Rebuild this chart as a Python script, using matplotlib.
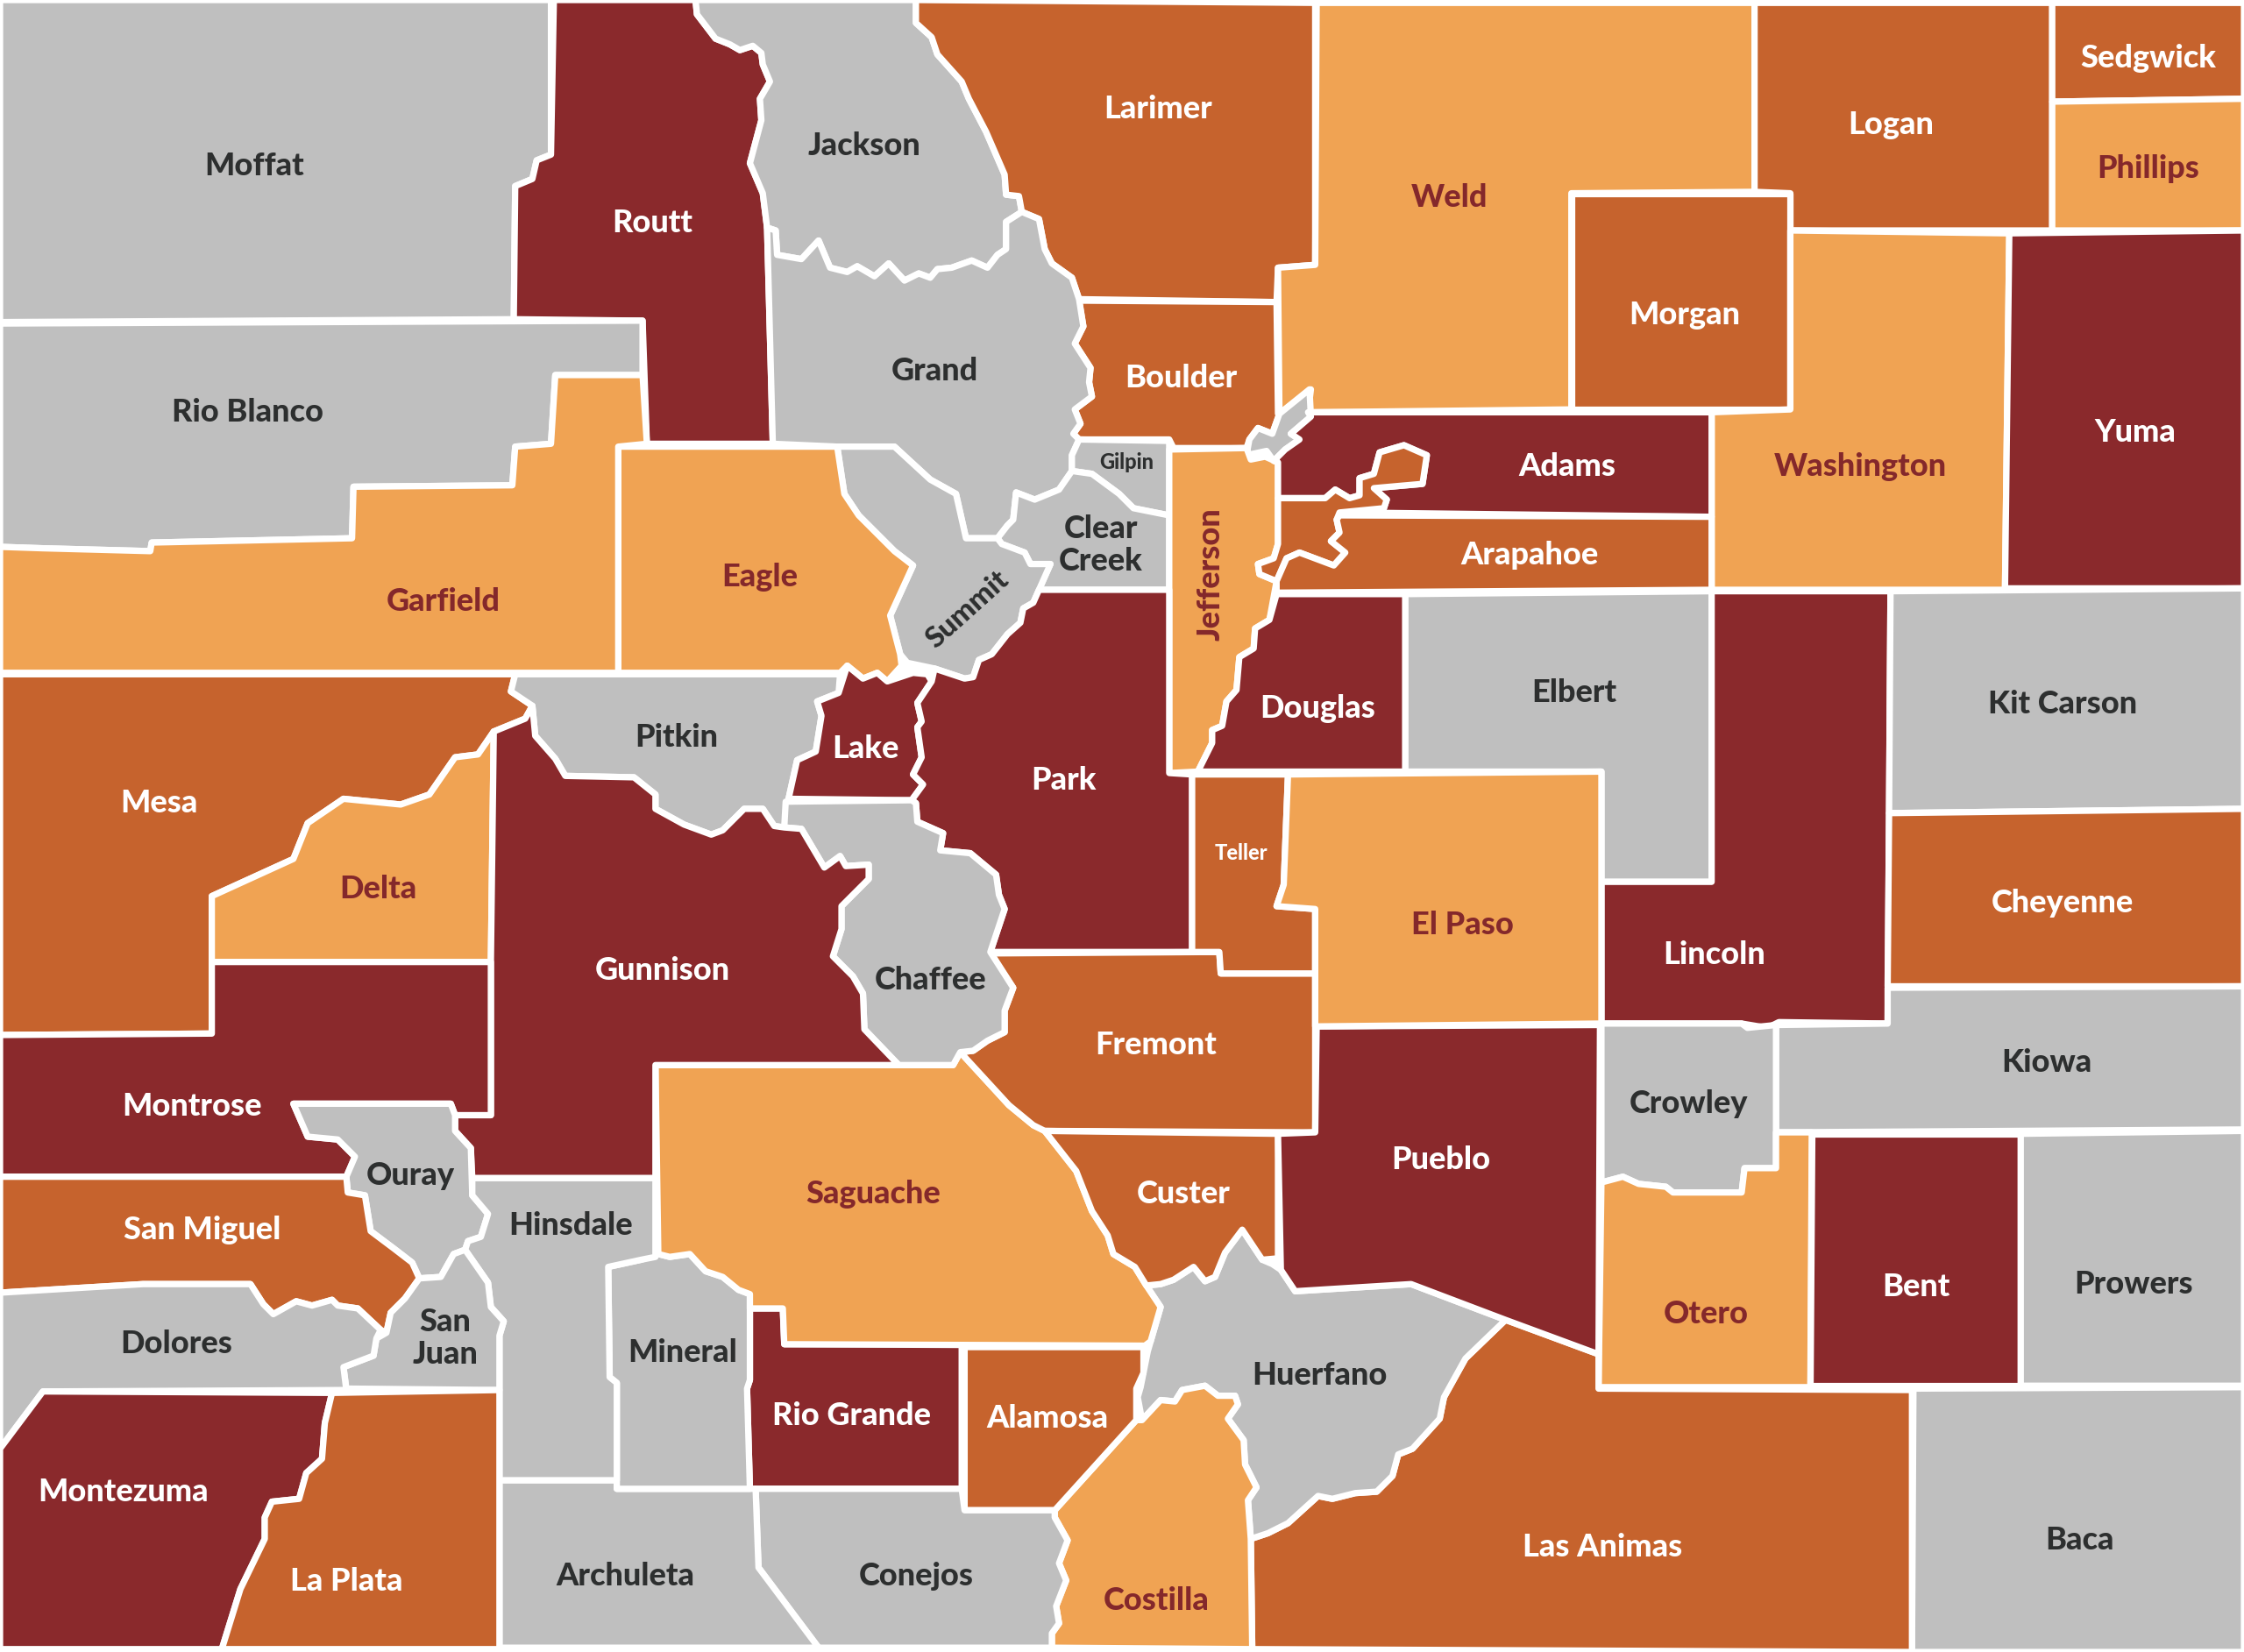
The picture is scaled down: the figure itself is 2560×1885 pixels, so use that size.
import matplotlib
matplotlib.use("Agg")
import matplotlib.pyplot as plt
from matplotlib.patches import Polygon

GREY, RED, ORANGE, LIGHT = "#BFBFBF", "#8A292C", "#C6632D", "#F0A353"
INK = {GREY: "#2D2F2F", RED: "#FFFFFF", ORANGE: "#FFFFFF", LIGHT: "#84282B"}

outlines = {
"Moffat": [(0,0),(385,0),(385,108),(375,112),(372,125),(360,130),(359,223),(0,225)],
"Routt": [(387,0),(486,0),(487,10),(500,27),(510,31),(517,35),(526,32),(532,37),(533,45),(538,57),(531,69),(532,84),(524,114),(533,135),(536,159),(540,310),(452,310),(449,224),(359,223),(360,130),(372,125),(375,112),(385,108)],
"Jackson": [(486,0),(640,0),(640,16),(651,26),(655,38),(672,57),(677,69),(689,92),(702,122),(703,136),(712,137),(714,148),(703,155),(703,174),(697,178),(690,187),(679,182),(665,187),(655,188),(650,194),(642,191),(632,196),(621,184),(611,193),(599,186),(592,190),(580,187),(572,168),(560,181),(543,178),(542,161),(536,159),(533,135),(524,114),(532,84),(531,69),(538,57),(533,45),(532,37),(526,32),(517,35),(510,31),(500,27),(487,10)],
"Larimer": [(640,0),(919,2),(919,185),(893,187),(892,211),(754,209),(749,194),(735,184),(730,174),(726,153),(714,148),(712,137),(703,136),(702,122),(689,92),(677,69),(672,57),(655,38),(651,26),(640,16)],
"Weld": [(920,2),(1226,2),(1226,134),(1098,135),(1098,286),(914,288),(916,272),(894,289),(893,187),(919,185)],
"Logan": [(1226,2),(1434,2),(1434,161),(1251,161),(1251,135),(1226,134)],
"Sedgwick": [(1434,2),(1568,2),(1568,69),(1434,71)],
"Phillips": [(1434,71),(1568,69),(1568,161),(1434,161)],
"Morgan": [(1098,135),(1251,135),(1251,286),(1098,286)],
"Washington": [(1251,161),(1404,163),(1401,412),(1196,412),(1196,288),(1251,286)],
"Yuma": [(1404,163),(1568,161),(1568,411),(1401,411)],
"Boulder": [(754,210),(892,211),(893,289),(894,289),(889,303),(879,299),(873,307),(871,313),(820,313),(817,307),(754,307),(750,303),(755,296),(751,286),(763,277),(761,267),(762,257),(751,240),(757,228)],
"Broomfield": [(871,318),(873,307),(879,299),(889,303),(894,289),(915,272),(916,291),(902,303),(908,307),(898,314),(890,322),(885,315)],
"Grand": [(536,159),(542,161),(543,178),(560,181),(572,168),(580,187),(592,190),(599,186),(611,193),(621,184),(632,196),(642,191),(650,194),(655,188),(665,187),(679,182),(690,187),(697,178),(703,174),(703,155),(714,148),(726,153),(730,174),(735,184),(749,194),(754,209),(757,228),(751,240),(762,257),(761,267),(763,277),(751,286),(755,296),(750,303),(754,307),(749,318),(749,329),(740,342),(723,349),(710,344),(708,363),(704,367),(697,376),(675,376),(668,345),(650,335),(625,312),(585,312),(540,310)],
"Gilpin": [(754,307),(817,308),(817,360),(792,355),(782,345),(763,331),(749,329),(749,318)],
"Clear Creek": [(749,329),(763,331),(782,345),(792,355),(817,360),(817,412),(726,412),(734,394),(720,394),(716,386),(700,380),(697,376),(704,367),(708,363),(710,344),(723,349),(740,342)],
"Jefferson": [(817,314),(871,313),(874,321),(884,319),(893,323),(893,380),(890,390),(879,394),(880,401),(892,406),(887,433),(877,439),(876,453),(866,459),(864,482),(857,490),(854,507),(847,510),(847,519),(837,539),(817,540)],
"Adams": [(914,288),(1196,288),(1196,361),(943,358),(967,355),(969,349),(960,341),(994,338),(997,318),(981,311),(964,316),(960,331),(950,334),(950,346),(943,348),(933,342),(926,348),(893,348),(893,323),(890,322),(898,314),(908,307),(902,303),(916,291)],
"Denver": [(893,348),(926,348),(933,342),(943,348),(950,346),(950,334),(960,331),(964,316),(981,311),(997,318),(994,338),(960,341),(969,349),(967,355),(936,358),(934,363),(936,372),(930,378),(940,386),(932,395),(908,386),(899,390),(892,406),(880,401),(879,394),(890,390),(893,380)],
"Arapahoe": [(936,360),(1196,361),(1196,412),(892,414),(892,406),(899,390),(908,386),(932,395),(940,386),(930,378),(936,372),(934,363)],
"Summit": [(585,312),(625,312),(650,335),(668,345),(675,376),(697,376),(700,380),(716,386),(720,394),(734,394),(726,412),(722,421),(715,425),(713,435),(704,443),(693,457),(684,461),(680,473),(674,474),(653,467),(634,463),(629,457),(622,430),(638,395),(625,385),(600,360),(590,345)],
"Eagle": [(432,312),(585,312),(590,345),(600,360),(625,385),(638,395),(622,430),(629,457),(630,465),(620,476),(613,470),(603,474),(592,465),(587,470),(432,470)],
"Rio Blanco": [(0,226),(449,224),(449,262),(388,262),(385,310),(360,312),(358,339),(247,340),(246,376),(106,379),(105,385),(30,383),(0,382)],
"Garfield": [(0,382),(30,383),(105,385),(106,379),(246,376),(247,340),(358,339),(360,312),(385,310),(388,262),(449,262),(452,310),(432,312),(432,470),(0,470)],
"Mesa": [(0,471),(360,471),(357,483),(372,493),(367,502),(345,511),(334,527),(318,529),(300,555),(280,562),(240,558),(215,575),(205,600),(148,626),(148,722),(0,723)],
"Delta": [(345,511),(343,672),(148,672),(148,626),(205,600),(215,575),(240,558),(280,562),(300,555),(318,529),(334,527)],
"Pitkin": [(360,471),(432,471),(587,471),(586,484),(571,490),(574,500),(570,525),(557,531),(551,558),(548,578),(541,577),(533,565),(520,565),(505,580),(497,583),(478,576),(458,565),(458,555),(443,543),(395,542),(388,530),(374,514),(372,493),(357,483)],
"Lake": [(592,465),(603,474),(613,470),(620,476),(638,470),(648,471),(651,476),(641,491),(644,504),(641,508),(644,529),(638,541),(645,548),(637,559),(551,558),(557,531),(570,525),(574,500),(571,490),(586,484)],
"Park": [(726,412),(817,412),(817,540),(833,541),(833,665),(692,665),(702,635),(698,625),(696,611),(678,596),(657,594),(659,582),(641,574),(640,561),(637,559),(645,548),(638,541),(644,529),(641,508),(644,504),(641,491),(651,476),(653,467),(674,474),(680,473),(684,461),(693,457),(704,443),(713,435),(715,425),(722,421)],
"Douglas": [(892,415),(982,415),(982,539),(837,539),(847,519),(847,510),(854,507),(857,490),(864,482),(866,459),(876,453),(877,439),(887,433)],
"Elbert": [(982,415),(1196,413),(1196,616),(1119,616),(1119,539),(982,539)],
"Lincoln": [(1196,413),(1321,413),(1319,715),(1243,714),(1235,718),(1217,715),(1119,715),(1119,616),(1196,616)],
"Kit Carson": [(1321,413),(1568,411),(1568,565),(1320,568)],
"Cheyenne": [(1320,568),(1568,565),(1568,689),(1319,689)],
"Kiowa": [(1241,716),(1319,715),(1319,690),(1568,689),(1568,789),(1241,791)],
"Crowley": [(1119,715),(1217,715),(1221,718),(1241,716),(1241,816),(1219,816),(1217,833),(1169,833),(1164,829),(1145,827),(1134,822),(1119,826)],
"Otero": [(1119,826),(1134,822),(1145,827),(1164,829),(1169,833),(1217,833),(1219,816),(1241,816),(1241,791),(1266,791),(1265,969),(1117,969)],
"Bent": [(1266,792),(1412,792),(1412,968),(1265,968)],
"Prowers": [(1412,792),(1568,790),(1568,968),(1412,968)],
"Baca": [(1337,970),(1568,969),(1568,1154),(1336,1154)],
"Las Animas": [(1052,922),(1117,946),(1117,970),(1336,971),(1336,1154),(875,1152),(874,1075),(886,1071),(900,1064),(921,1045),(931,1047),(947,1043),(962,1042),(973,1031),(977,1016),(987,1012),(1006,991),(1009,976),(1024,949)],
"Huerfano": [(801,898),(811,897),(820,894),(834,885),(842,895),(849,892),(856,875),(868,859),(882,880),(889,883),(895,887),(905,902),(986,897),(1052,922),(1024,949),(1009,976),(1006,991),(987,1012),(977,1016),(973,1031),(962,1042),(947,1043),(931,1047),(921,1045),(900,1064),(886,1071),(874,1075),(872,1048),(878,1039),(870,1023),(869,1006),(858,991),(865,981),(863,975),(851,975),(842,968),(826,971),(821,979),(811,978),(798,992),(795,976),(797,969),(802,944),(811,913)],
"Costilla": [(794,992),(798,992),(811,978),(821,979),(826,971),(842,968),(851,975),(863,975),(865,981),(858,991),(869,1006),(870,1023),(878,1039),(872,1048),(874,1075),(875,1152),(735,1151),(735,1141),(740,1134),(738,1122),(745,1104),(740,1092),(746,1076),(737,1060),(737,1055)],
"Alamosa": [(674,941),(799,941),(799,959),(794,970),(794,992),(737,1055),(674,1055)],
"Rio Grande": [(524,914),(547,914),(548,939),(672,939),(672,1040),(524,1040),(522,970),(524,964)],
"Conejos": [(528,1040),(672,1040),(674,1055),(737,1055),(737,1060),(746,1076),(740,1092),(745,1104),(738,1122),(740,1134),(735,1141),(735,1151),(572,1151),(530,1095)],
"Archuleta": [(349,1034),(431,1034),(431,1040),(528,1040),(530,1095),(572,1151),(349,1151)],
"Mineral": [(425,885),(448,880),(460,876),(468,878),(482,876),(493,888),(505,892),(516,901),(524,904),(524,964),(522,970),(524,1040),(431,1040),(431,966),(426,962)],
"Saguache": [(458,744),(666,744),(671,735),(705,772),(722,786),(730,790),(752,818),(763,846),(774,863),(778,876),(793,885),(801,898),(811,913),(804,937),(800,940),(548,939),(547,914),(524,914),(524,904),(516,901),(505,892),(493,888),(482,876),(468,878),(460,876)],
"Fremont": [(692,666),(852,665),(853,680),(919,680),(919,791),(730,790),(722,786),(705,772),(671,735),(680,734),(690,727),(702,721),(702,706),(708,690)],
"Custer": [(730,790),(893,792),(893,879),(882,880),(868,859),(856,875),(849,892),(842,895),(834,885),(820,894),(811,897),(801,898),(793,885),(778,876),(774,863),(763,846),(752,818)],
"Pueblo": [(920,717),(1118,716),(1117,946),(1052,922),(986,897),(905,902),(895,887),(893,792),(919,791)],
"Teller": [(833,541),(900,541),(897,618),(892,633),(919,635),(919,680),(853,680),(852,665),(833,665)],
"El Paso": [(900,541),(1119,539),(1119,715),(919,717),(919,635),(892,633),(897,618)],
"Chaffee": [(549,560),(637,559),(640,561),(641,574),(659,582),(657,594),(678,596),(696,611),(698,625),(702,635),(692,665),(708,690),(702,706),(702,721),(690,727),(680,734),(671,735),(666,744),(628,744),(604,719),(603,694),(596,682),(582,668),(588,649),(588,633),(607,614),(607,604),(591,605),(587,598),(576,606),(560,579),(548,578)],
"Gunnison": [(345,511),(367,502),(372,493),(374,514),(388,530),(395,542),(443,543),(458,555),(458,565),(478,576),(497,583),(505,580),(520,565),(533,565),(541,577),(548,578),(560,579),(576,606),(587,598),(591,605),(607,604),(607,614),(588,633),(588,649),(582,668),(596,682),(603,694),(604,719),(628,744),(458,744),(458,823),(330,823),(329,802),(318,790),(318,779),(343,779),(343,672)],
"Montrose": [(0,723),(148,722),(148,672),(343,672),(343,779),(318,779),(315,771),(205,771),(215,794),(236,796),(248,808),(242,822),(0,822)],
"Ouray": [(205,771),(315,771),(318,779),(318,790),(329,802),(330,835),(341,848),(336,864),(327,867),(325,873),(317,876),(308,892),(293,893),(288,882),(275,872),(259,860),(255,835),(243,833),(242,822),(248,808),(236,796),(215,794)],
"Hinsdale": [(330,823),(458,823),(458,878),(448,880),(425,885),(426,962),(431,966),(431,1034),(349,1034),(349,933),(352,923),(343,913),(341,896),(325,873),(327,867),(336,864),(341,848),(330,835)],
"San Miguel": [(0,822),(242,822),(243,833),(255,835),(259,860),(275,872),(288,882),(293,893),(283,907),(273,917),(270,931),(266,929),(250,914),(236,912),(232,908),(218,912),(207,909),(191,918),(184,911),(175,897),(100,897),(50,900),(0,903)],
"San Juan": [(293,893),(308,892),(317,876),(325,873),(341,896),(343,913),(352,923),(349,933),(349,971),(242,970),(240,955),(261,947),(263,935),(270,931),(273,917),(283,907)],
"Dolores": [(0,903),(50,900),(100,897),(175,897),(184,911),(191,918),(207,909),(218,912),(232,908),(236,912),(250,914),(266,929),(263,935),(261,947),(240,955),(242,971),(30,972),(0,1012)],
"Montezuma": [(0,1012),(30,972),(232,973),(227,994),(225,1019),(214,1029),(209,1047),(190,1049),(185,1060),(185,1075),(168,1110),(155,1152),(0,1152)],
"La Plata": [(232,973),(349,971),(349,1152),(155,1152),(168,1110),(185,1075),(185,1060),(190,1049),(209,1047),(214,1029),(225,1019),(227,994)],
}

classes = {
GREY: ["Moffat","Rio Blanco","Jackson","Grand","Broomfield","Gilpin","Clear Creek","Summit","Pitkin","Chaffee","Elbert","Kit Carson","Kiowa","Crowley","Prowers","Baca","Huerfano","Conejos","Archuleta","Mineral","Hinsdale","San Juan","Ouray","Dolores"],
RED: ["Routt","Yuma","Adams","Lake","Park","Douglas","Lincoln","Bent","Pueblo","Gunnison","Montrose","Montezuma","Rio Grande"],
ORANGE: ["Larimer","Logan","Sedgwick","Morgan","Boulder","Denver","Arapahoe","Mesa","Cheyenne","Las Animas","Alamosa","Fremont","Custer","Teller","San Miguel","La Plata"],
LIGHT: ["Weld","Phillips","Washington","Jefferson","Eagle","Garfield","Delta","Otero","Costilla","Saguache","El Paso"],
}

labels = [
("Moffat",178,116,26,0),("Routt",456,156,26,0),("Jackson",604,102,26,0),("Larimer",809,76,26,0),
("Weld",1013,138,26,0),("Logan",1321,87,26,0),("Sedgwick",1501,41,26,0),("Phillips",1501,118,26,0),
("Morgan",1177,220,26,0),("Washington",1300,326,26,0),("Yuma",1492,302,26,0),("Boulder",825,264,26,0),
("Grand",653,259,26,0),("Gilpin",787,323,17,0),("Clear\nCreek",769,381,26,0),("Jefferson",846,401,26,90),
("Adams",1095,326,26,0),("Arapahoe",1069,388,26,0),("Summit",676,426,24,42),("Eagle",531,403,26,0),
("Rio Blanco",173,288,26,0),("Garfield",310,420,26,0),("Mesa",111,561,26,0),("Delta",264,621,26,0),
("Pitkin",473,515,26,0),("Lake",605,523,26,0),("Park",743,545,26,0),("Douglas",921,495,26,0),
("Elbert",1100,484,26,0),("Lincoln",1198,667,26,0),("Kit Carson",1441,492,26,0),("Cheyenne",1441,631,26,0),
("Kiowa",1430,742,26,0),("Crowley",1180,771,26,0),("Otero",1192,918,26,0),("Bent",1339,899,26,0),
("Prowers",1491,897,26,0),("Baca",1453,1076,26,0),("Las Animas",1120,1081,26,0),("Huerfano",922,961,26,0),
("Costilla",808,1118,26,0),("Alamosa",732,991,26,0),("Rio Grande",595,989,26,0),("Conejos",640,1101,26,0),
("Archuleta",437,1101,26,0),("Mineral",477,945,26,0),("Saguache",610,834,26,0),("Fremont",808,730,26,0),
("Custer",827,834,26,0),("Pueblo",1007,810,26,0),("Teller",867,596,17,0),("El Paso",1022,646,26,0),
("Chaffee",650,685,26,0),("Gunnison",463,678,26,0),("Montrose",134,773,26,0),("Ouray",287,821,26,0),
("Hinsdale",399,856,26,0),("San Miguel",141,859,26,0),("San\nJuan",311,935,26,0),("Dolores",123,939,26,0),
("Montezuma",86,1042,26,0),("La Plata",242,1105,26,0),
]

color_of = {name: c for c, names in classes.items() for name in names}

fig = plt.figure(figsize=(25.6, 18.85), dpi=100, facecolor="white")
ax = fig.add_axes([0, 0, 1, 1])
ax.set_xlim(0, 1568)
ax.set_ylim(1154, 0)
ax.axis("off")

for name, pts in outlines.items():
    ax.add_patch(Polygon(pts, closed=True, facecolor=color_of[name], edgecolor="white",
                         linewidth=5.2, joinstyle="round"))

for text, x, y, size, rot in labels:
    key = text.replace("\n", " ")
    ax.text(x, y, text, ha="center", va="center", fontsize=size, rotation=rot,
            rotation_mode="anchor", family="Lato", weight=900, color=INK[color_of[key]],
            linespacing=1.15)

fig.savefig("out.png", dpi=100, facecolor="white")
